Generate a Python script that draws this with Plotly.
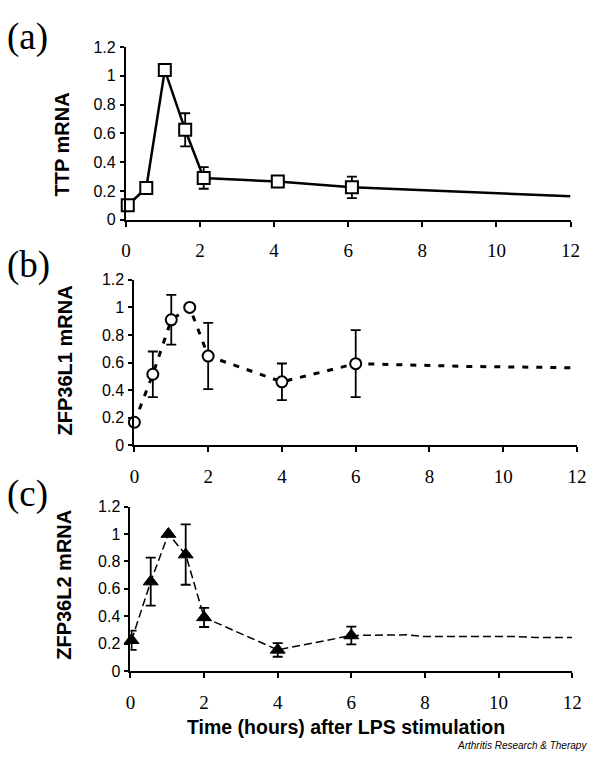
import plotly.graph_objects as go

# ---------------- data ----------------
time_a = [0.05, 0.55, 1.05, 1.6, 2.1, 4.1, 6.1]
ttp = [0.10, 0.22, 1.04, 0.625, 0.29, 0.265, 0.225]
ttp_err = [0.02, 0.02, 0.01, 0.115, 0.075, 0.03, 0.075]
tail_time_a = [8, 10, 12]
ttp_tail = [0.205, 0.185, 0.163]

time_b = [0, 0.5, 1, 1.5, 2, 4, 6]
zfp36l1 = [0.167, 0.515, 0.91, 1.0, 0.647, 0.46, 0.592]
zfp36l1_err = [0.0, 0.165, 0.18, 0.0, 0.24, 0.133, 0.243]
tail_time_b = [9, 12]
zfp36l1_tail = [0.572, 0.562]

time_c = [0.03, 0.55, 1.03, 1.5, 2.0, 4.0, 6.0]
zfp36l2 = [0.225, 0.653, 1.0, 0.85, 0.392, 0.155, 0.26]
zfp36l2_err = [0.07, 0.175, 0.0, 0.22, 0.07, 0.05, 0.065]
tail_time_c = [7.5, 8, 10.5, 11, 12]
zfp36l2_tail = [0.265, 0.252, 0.252, 0.245, 0.245]

x_ticks = [0, 2, 4, 6, 8, 10, 12]
y_ticks = [0, 0.2, 0.4, 0.6, 0.8, 1, 1.2]
y_ticklabels = ["0", "0.2", "0.4", "0.6", "0.8", "1", "1.2"]

panel_labels = ["(a)", "(b)", "(c)"]
y_titles = ["TTP mRNA", "ZFP36L1 mRNA", "ZFP36L2 mRNA"]
x_title = "Time (hours) after LPS stimulation"
credit = "Arthritis Research & Therapy"

# ---------------- layout geometry (pixels) ----------------
W, H = 600, 761
SERIF = "Liberation Serif, Times New Roman, serif"
SANS = "Liberation Sans, Arial, sans-serif"

def px_x(p):
    return p / W

def px_y(p):
    return 1 - p / H

panels = [
    # x_left, x_right, y_top, y_bottom (pixel coordinates)
    (124, 580, 40, 216.5),
    (132.7, 586.7, 278, 447.3),
    (128.7, 581.7, 510, 678.3),
]

fig = go.Figure()

series = [
    (time_a, ttp, ttp_err, tail_time_a, ttp_tail,
     dict(symbol="square", size=12, color="white", line=dict(color="black", width=2)),
     dict(color="black", width=2.5)),
    (time_b, zfp36l1, zfp36l1_err, tail_time_b, zfp36l1_tail,
     dict(symbol="circle", size=11, color="white", line=dict(color="black", width=2)),
     dict(color="black", width=3, dash="6px,8px")),
    (time_c, zfp36l2, zfp36l2_err, tail_time_c, zfp36l2_tail,
     dict(symbol="triangle-up", size=13, color="black", line=dict(color="black", width=1)),
     dict(color="black", width=1.5, dash="8px,4px")),
]

for i, (tx, ty, te, ttx, tty, mk, ln) in enumerate(series):
    ax = "" if i == 0 else str(i + 1)
    fig.add_trace(go.Scatter(
        x=tx + ttx, y=ty + tty, mode="lines", line=ln,
        xaxis="x" + ax, yaxis="y" + ax, showlegend=False, hoverinfo="skip",
        cliponaxis=False,
    ))
    fig.add_trace(go.Scatter(
        x=tx, y=ty, mode="markers", marker=mk,
        error_y=dict(type="data", array=te, visible=True, color="black",
                     thickness=1.8, width=5),
        xaxis="x" + ax, yaxis="y" + ax, showlegend=False, cliponaxis=False,
    ))

layout = dict(
    width=W, height=H,
    margin=dict(l=0, r=0, t=0, b=0),
    paper_bgcolor="white", plot_bgcolor="white",
    showlegend=False,
)

annotations = []
for i, (xl, xr, yt, yb) in enumerate(panels):
    ax = "" if i == 0 else str(i + 1)
    layout["xaxis" + ax] = dict(
        domain=[px_x(xl), px_x(xr)], anchor="y" + ax, range=[0, 12],
        tickvals=x_ticks, ticks="outside", ticklen=5, tickwidth=2, tickcolor="black",
        showline=True, linewidth=2, linecolor="black", showgrid=False, zeroline=False,
        tickfont=dict(family=SERIF, size=19, color="black"),
        ticklabelstandoff=8,
    )
    layout["yaxis" + ax] = dict(
        domain=[px_y(yb), px_y(yt)], anchor="x" + ax, range=[0, 1.2],
        tickvals=y_ticks, ticktext=y_ticklabels, ticks="outside", ticklen=4,
        tickwidth=2, tickcolor="black",
        showline=True, linewidth=2, linecolor="black", showgrid=False, zeroline=False,
        tickfont=dict(family=SANS, size=16, color="black"),
        ticklabelstandoff=1,
    )

title_pos = [(58, 140), (61, 360), (60.5, 590)]
label_pos = [(0, 30), (0, 263), (0, 497)]
for i in range(3):
    annotations.append(dict(
        text="<b>%s</b>" % y_titles[i], xref="paper", yref="paper",
        x=px_x(title_pos[i][0]), y=px_y(title_pos[i][1]),
        xanchor="center", yanchor="middle", textangle=-90, showarrow=False,
        font=dict(family=SANS, size=20, color="black"),
    ))
    annotations.append(dict(
        text=panel_labels[i], xref="paper", yref="paper",
        x=px_x(label_pos[i][0]), y=px_y(label_pos[i][1]),
        xanchor="left", yanchor="middle", showarrow=False,
        font=dict(family=SERIF, size=37, color="black"),
    ))

annotations.append(dict(
    text="<b>%s</b>" % x_title, xref="paper", yref="paper",
    x=px_x(349.5), y=px_y(735), xanchor="center", yanchor="middle",
    showarrow=False, font=dict(family=SANS, size=19.5, color="black"),
))
annotations.append(dict(
    text="<i>%s</i>" % credit, xref="paper", yref="paper",
    x=px_x(599), y=px_y(754), xanchor="right", yanchor="middle",
    showarrow=False, font=dict(family=SANS, size=10, color="black"),
))

layout["annotations"] = annotations
fig.update_layout(**layout)
fig.write_html(
    "out.html",
    config={"displayModeBar": False},
    post_script="document.body.style.margin='0';document.body.style.overflow='hidden';",
)
